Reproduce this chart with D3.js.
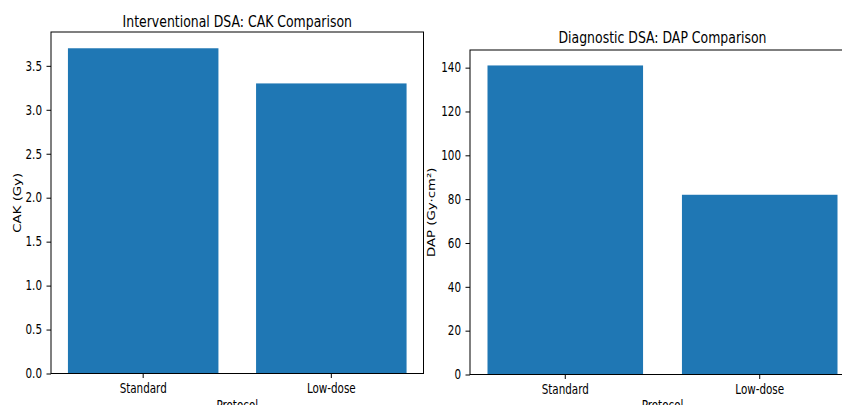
<!DOCTYPE html>
<html>
<head>
<meta charset="utf-8">
<script src="https://cdn.jsdelivr.net/npm/d3@7"></script>
<style>
  html, body { margin: 0; padding: 0; background: #fff; }
  svg { display: block; }
  text { font-family: "DejaVu Sans", sans-serif; fill: #000; }
</style>
</head>
<body>
<svg id="chart" width="842" height="405"></svg>
<script>
// ---- data ----
const categories = ["Standard", "Low-dose"];
const cakValues = [3.7, 3.3];
const dapValues = [141, 82];
const cakTicks = [0.0, 0.5, 1.0, 1.5, 2.0, 2.5, 3.0, 3.5];
const dapTicks = [0, 20, 40, 60, 80, 100, 120, 140];
const titles = ["Interventional DSA: CAK Comparison", "Diagnostic DSA: DAP Comparison"];
const yLabels = ["CAK (Gy)", "DAP (Gy·cm²)"];
const xLabel = "Protocol";

const SX = 0.78; // horizontal squeeze of the picture
const svg = d3.select("#chart");
const barColor = "#1f77b4";

const panels = [
  { x0: 51, x1: 423.5, y0: 32, y1: 373.5, values: cakValues, ticks: cakTicks, fmt: d3.format(".1f"),
    title: titles[0], titleY: 26.7, ylabel: yLabels[0], ylabelX: 20.5 },
  { x0: 470, x1: 855, y0: 50, y1: 374.5, values: dapValues, ticks: dapTicks, fmt: d3.format("d"),
    title: titles[1], titleY: 42.7, ylabel: yLabels[1], ylabelX: 435 }
];

panels.forEach(p => {
  const g = svg.append("g");
  const x = d3.scaleBand().domain(categories).range([p.x0, p.x1]).paddingInner(0.2).paddingOuter(0.09);
  const yMax = d3.max(p.values) * 1.05;
  const y = d3.scaleLinear().domain([0, yMax]).range([p.y1, p.y0]);

  // bars
  g.selectAll("rect.bar").data(p.values).join("rect")
    .attr("class", "bar")
    .attr("x", (d, i) => x(categories[i]))
    .attr("width", x.bandwidth())
    .attr("y", d => y(d))
    .attr("height", d => y(0) - y(d))
    .attr("fill", barColor);

  // spines
  const sp = g.append("g").attr("stroke", "#000").attr("stroke-width", 1).attr("fill", "none");
  sp.append("rect").attr("x", p.x0).attr("y", p.y0).attr("width", p.x1 - p.x0).attr("height", p.y1 - p.y0);

  // y axis
  const ya = g.append("g").attr("transform", `translate(${p.x0},0)`)
    .call(d3.axisLeft(y).tickValues(p.ticks).tickFormat(p.fmt).tickSize(4.5).tickPadding(0));
  ya.select(".domain").remove();
  ya.selectAll(".tick line").attr("stroke", "#000");
  ya.selectAll(".tick text")
    .attr("x", null).attr("dy", "0.32em")
    .attr("transform", `translate(-9,0) scale(${SX},1)`)
    .style("font-size", "13.3px").style("font-family", "DejaVu Sans").attr("fill", "#000");

  // x axis
  const xa = g.append("g").attr("transform", `translate(0,${p.y1})`)
    .call(d3.axisBottom(x).tickSize(4.5).tickPadding(0));
  xa.select(".domain").remove();
  xa.selectAll(".tick line").attr("stroke", "#000");
  xa.selectAll(".tick text")
    .attr("y", null).attr("dy", null)
    .attr("transform", `translate(0,19.5) scale(${SX},1)`)
    .style("font-size", "13.3px").style("font-family", "DejaVu Sans").attr("fill", "#000");

  const cx = (p.x0 + p.x1) / 2;
  // title
  g.append("text")
    .attr("transform", `translate(${cx},${p.titleY}) scale(${SX},1)`)
    .attr("text-anchor", "middle")
    .style("font-size", "16px")
    .text(p.title);

  // x label
  g.append("text")
    .attr("transform", `translate(${cx},410) scale(${SX},1)`)
    .attr("text-anchor", "middle")
    .style("font-size", "13.3px")
    .text(xLabel);

  // y label
  g.append("text")
    .attr("transform", `translate(${p.ylabelX},${(p.y0 + p.y1) / 2}) scale(${SX},1) rotate(-90)`)
    .attr("text-anchor", "middle")
    .style("font-size", "13.3px")
    .text(p.ylabel);
});
</script>
</body>
</html>
